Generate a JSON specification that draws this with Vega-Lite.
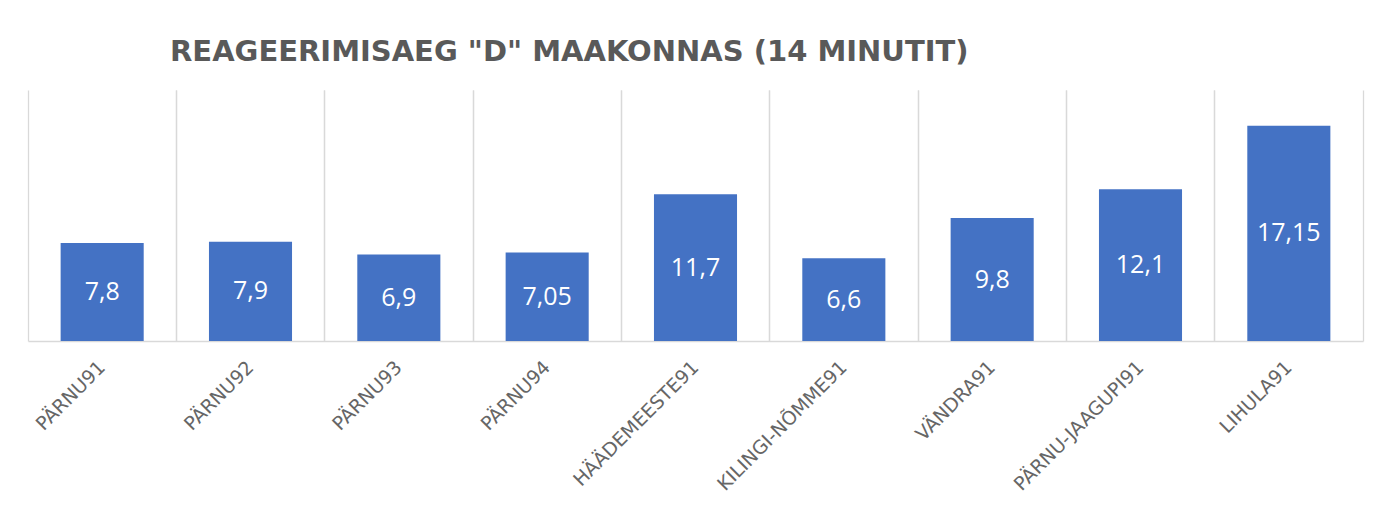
{
  "$schema": "https://vega.github.io/schema/vega-lite/v6.json",
  "width": 1335,
  "height": 251,
  "autosize": {"type": "none"},
  "padding": {"left": 28, "top": 90, "right": 28, "bottom": 186},
  "background": "white",
  "title": {
    "text": "REAGEERIMISAEG \"D\" MAAKONNAS (14 MINUTIT)",
    "anchor": "start",
    "frame": "group",
    "dx": 142,
    "offset": 23,
    "font": "DejaVu Sans",
    "fontSize": 29,
    "fontWeight": "bold",
    "color": "#595959"
  },
  "data": {
    "values": [
      {"jaam": "PÄRNU91", "aeg": 7.8},
      {"jaam": "PÄRNU92", "aeg": 7.9},
      {"jaam": "PÄRNU93", "aeg": 6.9},
      {"jaam": "PÄRNU94", "aeg": 7.05},
      {"jaam": "HÄÄDEMEESTE91", "aeg": 11.7},
      {"jaam": "KILINGI-NÕMME91", "aeg": 6.6},
      {"jaam": "VÄNDRA91", "aeg": 9.8},
      {"jaam": "PÄRNU-JAAGUPI91", "aeg": 12.1},
      {"jaam": "LIHULA91", "aeg": 17.15}
    ]
  },
  "layer": [
    {
      "mark": {"type": "bar", "color": "#4472C4", "width": {"band": 0.56}},
      "encoding": {
        "x": {
          "field": "jaam",
          "type": "nominal",
          "sort": null,
          "scale": {"paddingInner": 0, "paddingOuter": 0},
          "axis": {
            "orient": "bottom",
            "title": null,
            "bandPosition": 0,
            "grid": true,
            "gridColor": "#D9D9D9",
            "gridWidth": 1.3,
            "ticks": false,
            "domainColor": "#D9D9D9",
            "domainWidth": 1.5,
            "labelAngle": -45,
            "labelAlign": "right",
            "labelBaseline": "middle",
            "labelPadding": 23,
            "labelFont": "DejaVu Sans",
            "labelFontSize": 19,
            "labelLimit": 500,
            "labelColor": "#666666",
            "labelBound": false,
            "labelOverlap": false,
            "labelFlush": false
          }
        },
        "y": {
          "field": "aeg",
          "type": "quantitative",
          "scale": {"domain": [0, 20], "nice": false},
          "axis": null
        }
      }
    },
    {
      "mark": {"type": "text", "color": "white", "font": "Open Sans", "fontSize": 25, "baseline": "middle", "align": "center"},
      "encoding": {
        "x": {
          "field": "jaam",
          "type": "nominal",
          "sort": null,
          "axis": {
            "orient": "top",
            "title": null,
            "bandPosition": 1,
            "grid": true,
            "gridColor": "#D9D9D9",
            "gridWidth": 1.3,
            "ticks": false,
            "labels": false,
            "domain": false
          }
        },
        "y": {
          "field": "aeg",
          "type": "quantitative",
          "scale": {"domain": [0, 40], "nice": false},
          "axis": null
        },
        "text": {"field": "aeg", "type": "quantitative"}
      }
    }
  ],
  "resolve": {"scale": {"y": "independent"}},
  "config": {
    "view": {"stroke": null},
    "locale": {
      "number": {"decimal": ",", "thousands": " ", "grouping": [3], "currency": ["", " €"]}
    }
  }
}
